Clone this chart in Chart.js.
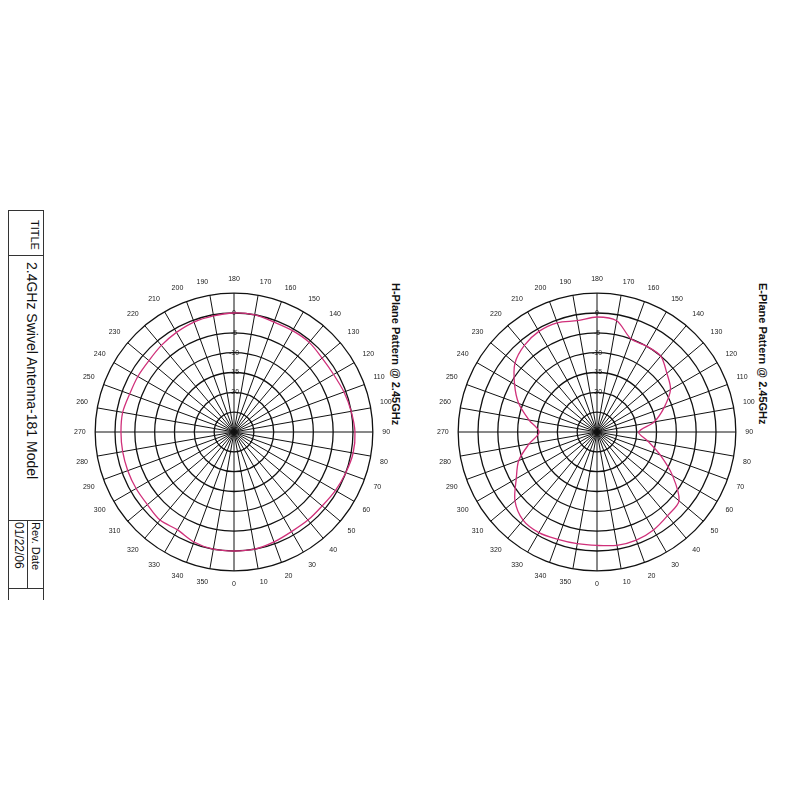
<!DOCTYPE html>
<html><head><meta charset="utf-8">
<script src="https://cdn.jsdelivr.net/npm/chart.js@4"></script>
<style>
body{margin:0;width:800px;height:800px;background:#fff;position:relative;overflow:hidden;font-family:"Liberation Sans",Arial,sans-serif}
.box{position:absolute;width:330px;height:330px}
.rot{position:absolute;transform-origin:0 0;transform:rotate(90deg);white-space:nowrap;color:#111}
.ln{position:absolute;background:#333}
</style></head><body>
<div class="ln" style="left:8px;top:210px;width:1px;height:390px"></div>
<div class="ln" style="left:43px;top:210px;width:1px;height:390px"></div>
<div class="ln" style="left:8px;top:210px;width:35px;height:1px"></div>
<div class="ln" style="left:8px;top:255px;width:35px;height:1px"></div>
<div class="ln" style="left:8px;top:520px;width:35px;height:1px"></div>
<div class="ln" style="left:8px;top:588px;width:35px;height:1px"></div>
<div class="ln" style="left:27px;top:520px;width:1px;height:68px"></div>
<div class="rot" style="left:41px;top:220px;font-size:11px">TITLE</div>
<div class="rot" style="left:40px;top:262px;font-size:14px">2.4GHz Swivel Antenna-181 Model</div>
<div class="rot" style="left:42px;top:522px;font-size:11px">Rev. Date</div>
<div class="rot" style="left:26px;top:522px;font-size:12px">01/22/06</div>
<div class="rot" style="left:402px;top:283px;font-size:11px;font-weight:bold">H-Plane Pattern @ 2.45GHz</div>
<div class="rot" style="left:769px;top:283px;font-size:11px;font-weight:bold">E-Plane Pattern @ 2.45GHz</div>
<div class="box" style="left:68px;top:267px"><canvas id="h"></canvas></div>
<div class="box" style="left:431px;top:267px"><canvas id="e"></canvas></div>
<script>
// angles in degrees, listed clockwise from the top of the plot
const angles = [180,170,160,150,140,130,120,110,100,90,80,70,60,50,40,30,20,10,0,350,340,330,320,310,300,290,280,270,260,250,240,230,220,210,200,190];
// gain in dB, same order as angles
const hPlane = [0,0,-0.5,-0.5,-0.5,-1,-1,-0.5,0,0.5,0.5,0,-0.5,-1,-1,-1,-0.5,0,0,0,-0.5,-1.5,-1,-1.5,-1.5,-1.5,-1.5,-1.5,-1.5,-2,-2,-2,-1.5,-1,-0.5,-0.3];
const ePlane = [-1,-1.5,-5,-5,-5,-7,-8.6,-12,-15.4,-19.5,-17,-13,-8,-3,-2.4,-1.5,-1,-1,-1.4,-1.4,-1.2,-0.7,-1,-3,-6.5,-9,-12.6,-15.4,-12.6,-9,-6,-3,-1.5,-0.7,-0.7,-1.5];
const dbMin = -30, dbMax = 5;

function polar(id, values) {
  new Chart(document.getElementById(id), {
    type: 'radar',
    data: {
      labels: angles.map(String),
      datasets: [{
        data: values,
        borderColor: '#d0307a',
        borderWidth: 1.3,
        pointRadius: 0,
        fill: false,
        tension: 0.3
      }]
    },
    options: {
      animation: false,
      responsive: true,
      maintainAspectRatio: true,
      layout: { padding: 5 },
      plugins: { legend: { display: false }, tooltip: { enabled: false } },
      scales: {
        r: {
          min: dbMin,
          max: dbMax,
          ticks: {
            stepSize: 5,
            showLabelBackdrop: false,
            font: { size: 7 },
            color: '#222',
            callback: (v) => (v > 0 || v < -20) ? '' : String(v)
          },
          grid: { circular: true, color: '#111', lineWidth: 1.3 },
          angleLines: { color: '#111', lineWidth: 1 },
          pointLabels: { font: { size: 7 }, color: '#222', padding: 4 }
        }
      }
    }
  });
}

polar('h', hPlane);
polar('e', ePlane);
</script>
</body></html>
